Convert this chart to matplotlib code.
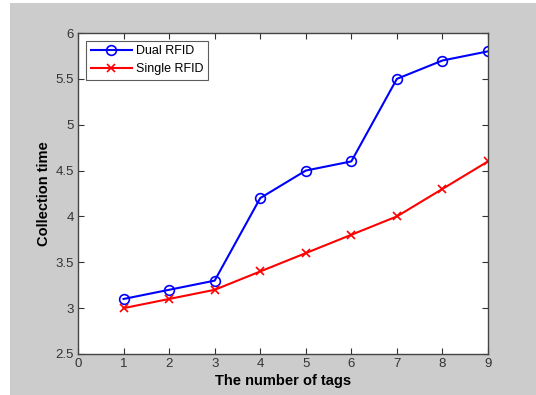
import matplotlib
matplotlib.use('Agg')
import matplotlib.pyplot as plt
from matplotlib.patches import Rectangle

# 数据
tags = [1, 2, 3, 4, 5, 6, 7, 8, 9]
dual_rfid = [3.1, 3.2, 3.3, 4.2, 4.5, 4.6, 5.5, 5.7, 5.8]
single_rfid = [3.0, 3.1, 3.2, 3.4, 3.6, 3.8, 4.0, 4.3, 4.6]
x_ticks = [0, 1, 2, 3, 4, 5, 6, 7, 8, 9]
y_ticks = [2.5, 3, 3.5, 4, 4.5, 5, 5.5, 6]

plt.rcParams['font.family'] = ['Liberation Sans', 'DejaVu Sans']

fig = plt.figure(figsize=(5.36, 3.95), dpi=100)
fig.patch.set_facecolor('white')
# MATLAB 风格的灰色背景
fig.patches.append(Rectangle((10 / 536, 0), 1, (395 - 3) / 395,
                             transform=fig.transFigure, facecolor='#cccccc',
                             edgecolor='none', zorder=-10))

ax = fig.add_axes([78 / 536, (395 - 354) / 395, (488 - 78) / 536, (354 - 33) / 395])
ax.plot(tags, dual_rfid, color='#0000ff', marker='o', markersize=7,
        markerfacecolor='none', markeredgewidth=1.2, linewidth=1.5, label='Dual RFID')
ax.plot(tags, single_rfid, color='#ff0000', marker='x', markersize=6,
        markeredgewidth=1.2, linewidth=1.5, label='Single RFID')

ax.set_xlim(0, 9)
ax.set_ylim(2.5, 6)
ax.set_xticks(x_ticks)
ax.set_yticks(y_ticks)
ax.set_yticklabels(['2.5', '3', '3.5', '4', '4.5', '5', '5.5', '6'])
ax.tick_params(direction='in', top=True, right=True, length=4, labelsize=9.5,
               labelcolor='#333333', color='#333333', pad=3)
for s in ax.spines.values():
    s.set_color('#444444')
    s.set_linewidth(1)

ax.set_xlabel('The number of tags', fontsize=10.5, fontweight='bold', labelpad=3)
ax.set_ylabel('Collection time', fontsize=10.5, fontweight='bold', labelpad=3)

leg = ax.legend(loc='upper left', fontsize=9, frameon=True, fancybox=False,
                borderaxespad=0.6, handlelength=3.3, borderpad=0.4,
                labelspacing=0.45, handletextpad=0.3)
leg.get_frame().set_edgecolor('#333333')
leg.get_frame().set_linewidth(0.8)

fig.savefig('out.png', dpi=100)
